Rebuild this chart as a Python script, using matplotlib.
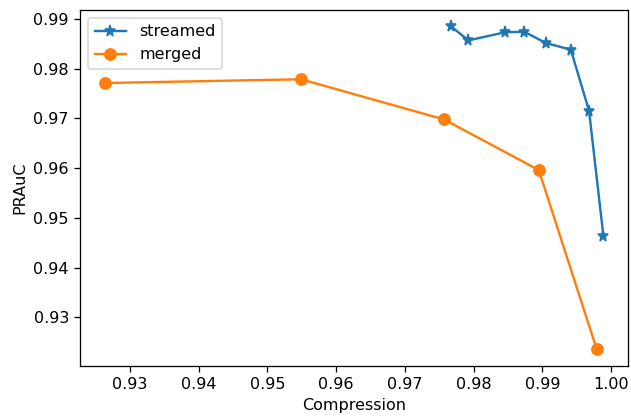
import numpy as np
import matplotlib
matplotlib.use('Agg')
import matplotlib.pyplot as plt

# compression ratio vs PRAuC for the two approaches
streamed_compression = [0.97667, 0.97924, 0.98462, 0.98739, 0.99054, 0.99414, 0.99680, 0.99888]
streamed_prauc = [0.98852, 0.98565, 0.98731, 0.98739, 0.98511, 0.98379, 0.97148, 0.94637]

merged_compression = [0.92636, 0.95489, 0.97570, 0.98948, 0.99792]
merged_prauc = [0.97709, 0.97784, 0.96976, 0.95960, 0.92353]

dpi = 115
fig, ax = plt.subplots(figsize=(631 / dpi, 416 / dpi), dpi=dpi)
fig.subplots_adjust(left=0.127, right=0.9957, top=0.976, bottom=0.121)

ax.plot(streamed_compression, streamed_prauc, marker='*', markersize=7, label='streamed')
ax.plot(merged_compression, merged_prauc, marker='o', markersize=7, label='merged')

ax.set_xlabel('Compression')
ax.set_ylabel('PRAuC')
ax.legend(loc='upper left')

fig.savefig('out.png', dpi=dpi)
